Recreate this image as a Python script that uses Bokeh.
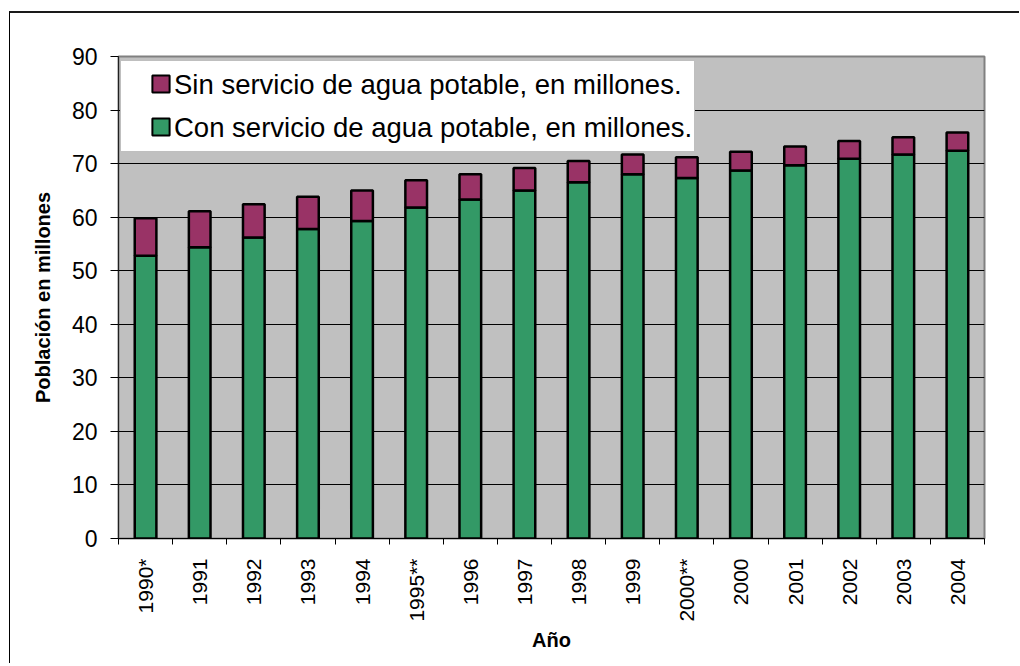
import math
from bokeh.plotting import figure
from bokeh.models import Range1d, FixedTicker, Legend, LegendItem, ColumnDataSource
from bokeh.embed import file_html
from bokeh.resources import INLINE

years = ["1990*", "1991", "1992", "1993", "1994", "1995**", "1996", "1997",
         "1998", "1999", "2000**", "2000", "2001", "2002", "2003", "2004"]
con_servicio = [52.8, 54.4, 56.2, 57.8, 59.3, 61.8, 63.3, 65.0,
                66.5, 68.0, 67.3, 68.7, 69.7, 70.9, 71.7, 72.4]
sin_servicio = [7.0, 6.7, 6.2, 6.0, 5.7, 5.1, 4.7, 4.2,
                4.0, 3.7, 3.9, 3.5, 3.5, 3.3, 3.2, 3.4]
y_ticks = [0, 10, 20, 30, 40, 50, 60, 70, 80, 90]
legend_labels = ["Sin servicio de agua potable, en millones.",
                 "Con servicio de agua potable, en millones."]

GREEN = "#339966"
PURPLE = "#993366"
FONT = "Liberation Sans"
NAN = float("nan")

xs = list(range(len(years)))
totals = [c + s for c, s in zip(con_servicio, sin_servicio)]
src = ColumnDataSource(dict(x=xs, con=con_servicio, total=totals))

p = figure(width=1010, height=652, output_backend="svg", toolbar_location=None,
           x_range=Range1d(-0.5, len(years) - 0.5), y_range=Range1d(0, 90),
           min_border_left=108, min_border_top=43, min_border_right=36,
           min_border_bottom=127)
p.styles = {"border-top": "2px solid #1a1a1a", "border-left": "1px solid #000000",
            "margin-top": "11px", "margin-left": "9px"}

p.background_fill_color = "#C0C0C0"
p.border_fill_color = "white"
p.outline_line_color = "#808080"
p.outline_line_width = 2

r_con = p.vbar(x="x", bottom=0, top="con", width=0.4, source=src,
               fill_color=GREEN, line_color="black", line_width=2.5)
r_sin = p.vbar(x="x", bottom="con", top="total", width=0.4, source=src,
               fill_color=PURPLE, line_color="black", line_width=2.5)

# renderers used only for legend glyphs (no visible data points)
blank = p.scatter(x=[NAN], y=[NAN], marker="square", size=1,
                  fill_alpha=0, line_alpha=0)
sw_sin = p.scatter(x=[NAN], y=[NAN], marker="square", size=17, fill_color=PURPLE,
                   line_color="black", line_width=2)
sw_con = p.scatter(x=[NAN], y=[NAN], marker="square", size=17, fill_color=GREEN,
                   line_color="black", line_width=2)

# Y axis
p.yaxis.ticker = FixedTicker(ticks=y_ticks)
p.yaxis.major_tick_out = 8
p.yaxis.major_tick_in = 0
p.yaxis.minor_tick_line_color = None
p.yaxis.major_label_text_font = FONT
p.yaxis.major_label_text_font_size = "23px"
p.yaxis.major_label_text_color = "black"
p.yaxis.major_label_standoff = 13
p.yaxis.axis_line_color = "#202020"
p.yaxis.axis_label = "Población en millones"
p.yaxis.axis_label_text_font = FONT
p.yaxis.axis_label_text_font_style = "bold"
p.yaxis.axis_label_text_font_size = "20px"
p.yaxis.axis_label_text_color = "black"
p.yaxis.axis_label_standoff = 15
p.ygrid.ticker = FixedTicker(ticks=y_ticks)
p.ygrid.grid_line_color = "black"
p.ygrid.grid_line_width = 1

# X axis
p.xaxis.ticker = FixedTicker(ticks=xs, minor_ticks=[i - 0.5 for i in range(len(years) + 1)])
p.xaxis.major_label_overrides = {i: lab for i, lab in zip(xs, years)}
p.xaxis.major_tick_out = 0
p.xaxis.major_tick_in = 0
p.xaxis.minor_tick_out = 6
p.xaxis.minor_tick_in = 0
p.xaxis.minor_tick_line_color = "black"
p.xaxis.major_label_orientation = math.pi / 2
p.xaxis.major_label_text_font = FONT
p.xaxis.major_label_text_font_size = "21px"
p.xaxis.major_label_text_color = "black"
p.xaxis.major_label_standoff = 14
p.xaxis.axis_line_color = "black"
p.xaxis.axis_label = "Año"
p.xaxis.axis_label_text_font = FONT
p.xaxis.axis_label_text_font_style = "bold"
p.xaxis.axis_label_text_font_size = "20px"
p.xaxis.axis_label_text_color = "black"
p.xaxis.axis_label_standoff = 4
p.xgrid.grid_line_color = None

# legend box with texts
legend = Legend(items=[
    LegendItem(label=legend_labels[0], renderers=[blank]),
    LegendItem(label=legend_labels[1], renderers=[blank]),
], location=(2, 386))
legend.margin = 0
legend.padding = 2
legend.spacing = 0
legend.glyph_width = 51
legend.glyph_height = 43
legend.label_height = 43
legend.label_standoff = 0
legend.label_text_font = FONT
legend.label_text_font_size = "27.5px"
legend.label_text_color = "black"
legend.label_text_baseline = "middle"
legend.border_line_color = "#808080"
legend.border_line_width = 1.5
legend.background_fill_color = "white"
legend.background_fill_alpha = 1.0
p.add_layout(legend, "center")

# legend swatches
swatches = Legend(items=[
    LegendItem(label=" ", renderers=[sw_sin]),
    LegendItem(label=" ", renderers=[sw_con]),
], location=(21, 390))
swatches.margin = 0
swatches.padding = 0
swatches.spacing = 0
swatches.glyph_width = 43
swatches.glyph_height = 43
swatches.label_height = 43
swatches.label_standoff = 0
swatches.label_text_font_size = "10px"
swatches.border_line_color = None
swatches.background_fill_alpha = 0
p.add_layout(swatches, "center")

open("out.html", "w").write(file_html(p, INLINE))
